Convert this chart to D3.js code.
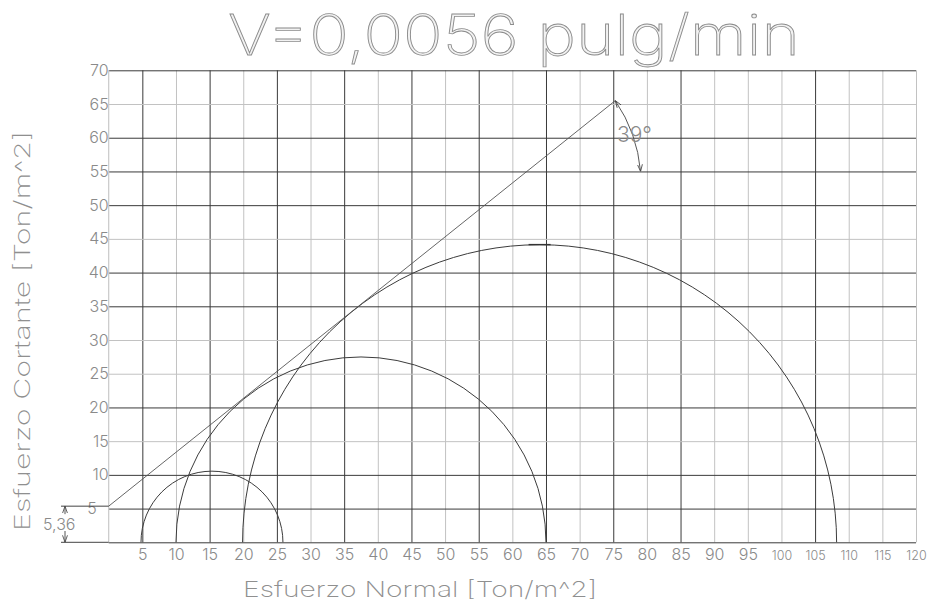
<!DOCTYPE html>
<html><head><meta charset="utf-8">
<script src="https://cdn.jsdelivr.net/npm/d3@7"></script>
<style>
html,body{margin:0;padding:0;background:#fff;}
svg{display:block;}
.lbl{font-family:Inter,"DejaVu Sans",sans-serif;font-weight:300;fill:#8a8a8a;}
.thin{font-family:Inter,"DejaVu Sans",sans-serif;font-weight:200;}
</style></head>
<body>
<svg id="c" width="929" height="608"></svg>
<script>
// ---- data ----
const title = "V=0,0056  pulg/min";
const xTitle = "Esfuerzo Normal [Ton/m^2]";
const yTitle = "Esfuerzo Cortante [Ton/m^2]";
const xTicks = [5,10,15,20,25,30,35,40,45,50,55,60,65,70,75,80,85,90,95,100,105,110,115,120];
const yTicks = [5,10,15,20,25,30,35,40,45,50,55,60,65,70];
const darkV = [5,15,25,35,45,55,65,75,85,105];
const darkH = [0,5,10,20,35,40,50,55,60,70];
const circleCenters = [15.35, 37.5, 64.05];
const circleRadii = [10.55, 27.5, 44.15];
const envelopeX = [0, 75.3];
const envelopeY = [5.36, 65.5];
const arcEnd = [79.06, 55.0];
const angleLabel = "39°";
const cohesionLabel = "5,36";

// ---- scales ----
const svg = d3.select("#c");
const x = d3.scaleLinear().domain([0,120]).range([108.7,916]);
const y = d3.scaleLinear().domain([0,70]).range([542.3,70.3]);
const H = y(0)-y(70);

const defs = svg.append("defs");
defs.append("marker").attr("id","arr").attr("viewBox","0 0 10 10")
  .attr("refX",10).attr("refY",5).attr("markerWidth",7).attr("markerHeight",7)
  .attr("orient","auto-start-reverse").attr("markerUnits","userSpaceOnUse")
  .append("path").attr("d","M0,1.5 L10,5 L0,8.5").attr("fill","none").attr("stroke","#444").attr("stroke-width",1.2);

// ---- grid via axes ----
const gx = svg.append("g").attr("transform",`translate(0,${y(0)})`)
  .call(d3.axisBottom(x).tickValues(xTicks).tickSize(-H).tickPadding(6).tickFormat(d3.format("d")));
gx.select(".domain").remove();
gx.selectAll(".tick line").attr("stroke",d=>darkV.includes(d)?"#3a3a3a":"#c2c2c2").attr("stroke-width",1);
gx.selectAll(".tick text").attr("class","lbl").attr("font-size",d=>d>=100?12.5:16)
  .attr("dy",d=>d>=100?"0.9em":"0.71em").attr("fill",null);

const gy = svg.append("g").attr("transform",`translate(${x(0)},0)`)
  .call(d3.axisLeft(y).tickValues([0].concat(yTicks)).tickSize(-(x(120)-x(0))).tickPadding(0).tickFormat(d=>d===0?"":d));
gy.select(".domain").remove();
gy.selectAll(".tick line").attr("stroke",d=>darkH.includes(d)?"#3a3a3a":"#c2c2c2").attr("stroke-width",1);
gy.selectAll(".tick text").attr("class","lbl").attr("font-size",16).attr("fill",null)
  .attr("x",d=>d===5?-12:0);

svg.append("line").attr("x1",x(0)).attr("x2",x(0)).attr("y1",y(0)).attr("y2",y(70))
  .attr("stroke","#c8c8c8").attr("stroke-width",1.2);

// ---- Mohr circles ----
svg.append("g").selectAll("path").data(circleCenters).join("path")
  .attr("d",(c,i)=>{const r=circleRadii[i];const rx=x(r)-x(0), ry=y(0)-y(r);
     return `M${x(c-r)},${y(0)} A${rx},${ry} 0 0 1 ${x(c+r)},${y(0)}`;})
  .attr("fill","none").attr("stroke","#3c3c3c").attr("stroke-width",1);

svg.append("line").attr("x1",x(circleCenters[2])-11).attr("x2",x(circleCenters[2])+11)
  .attr("y1",y(circleRadii[2])).attr("y2",y(circleRadii[2])).attr("stroke","#333").attr("stroke-width",1.4);

// ---- failure envelope ----
svg.append("line").attr("x1",x(envelopeX[0])).attr("y1",y(envelopeY[0]))
  .attr("x2",x(envelopeX[1])).attr("y2",y(envelopeY[1])).attr("stroke","#555").attr("stroke-width",0.9);

svg.append("path")
  .attr("d",`M${x(envelopeX[1])},${y(envelopeY[1])} A150,150 0 0 1 ${x(arcEnd[0])},${y(arcEnd[1])}`)
  .attr("fill","none").attr("stroke","#444").attr("stroke-width",0.9)
  .attr("marker-start","url(#arr)").attr("marker-end","url(#arr)");
svg.append("text").attr("class","lbl").attr("x",617).attr("y",142).attr("font-size",21).text(angleLabel);

// ---- cohesion dimension ----
const dimX = 65;
[envelopeY[0],0].forEach(v=>{
  svg.append("line").attr("x1",61).attr("x2",x(0)).attr("y1",y(v)).attr("y2",y(v))
    .attr("stroke","#444").attr("stroke-width",1);
});
svg.append("line").attr("x1",dimX).attr("x2",dimX).attr("y1",y(envelopeY[0])+8).attr("y2",y(envelopeY[0]))
  .attr("stroke","#444").attr("stroke-width",0.9).attr("marker-end","url(#arr)");
svg.append("line").attr("x1",dimX).attr("x2",dimX).attr("y1",531).attr("y2",y(0))
  .attr("stroke","#444").attr("stroke-width",0.9).attr("marker-end","url(#arr)");
svg.append("text").attr("class","lbl").attr("x",43).attr("y",530).attr("font-size",16).text(cohesionLabel);

// ---- titles ----
svg.append("text").attr("class","thin").attr("x",228).attr("y",55)
  .attr("font-size",56).attr("textLength",572).attr("lengthAdjust","spacingAndGlyphs")
  .attr("fill","#f2f2f2").attr("stroke","#8c8c8c").attr("stroke-width",0.8).text(title);
svg.append("text").attr("class","thin").attr("x",243).attr("y",597).attr("font-size",22)
  .attr("textLength",354).attr("lengthAdjust","spacingAndGlyphs").attr("fill","#8f8f8f").text(xTitle);
svg.append("text").attr("class","thin").attr("transform","translate(30,531) rotate(-90)")
  .attr("font-size",22).attr("textLength",400).attr("lengthAdjust","spacingAndGlyphs").attr("fill","#8f8f8f").text(yTitle);
</script>
</body></html>
